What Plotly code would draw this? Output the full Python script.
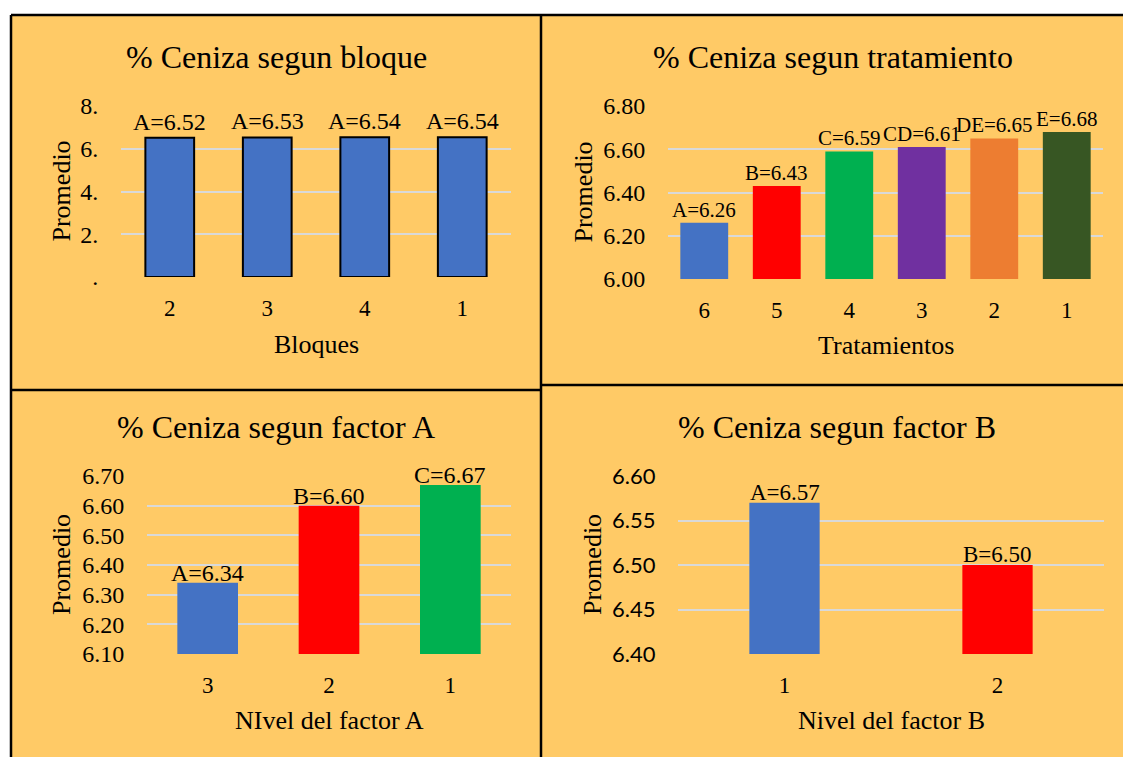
import plotly.graph_objects as go

# ---- data ----
bloques = ["2", "3", "4", "1"]
prom_bloque = [6.52, 6.53, 6.54, 6.54]
let_bloque = ["A", "A", "A", "A"]

tratamientos = ["6", "5", "4", "3", "2", "1"]
prom_trat = [6.26, 6.43, 6.59, 6.61, 6.65, 6.68]
let_trat = ["A", "B", "C", "CD", "DE", "E"]

nivel_a = ["3", "2", "1"]
prom_a = [6.34, 6.60, 6.67]
let_a = ["A", "B", "C"]

nivel_b = ["1", "2"]
prom_b = [6.57, 6.50]
let_b = ["A", "B"]

W, H = 1123, 757
SERIF = "Liberation Serif, Times New Roman, serif"
SANS = "Lato, Open Sans, sans-serif"
BG = "#FFCA66"
GRID = "#D9D9D9"

def px(x):
    return x / W

def py(y):
    return 1 - y / H

fig = go.Figure()

def labels(lets, vals):
    return [f"{l}={v:.2f}" for l, v in zip(lets, vals)]

panels = [
    dict(cats=bloques, vals=prom_bloque, lets=let_bloque, colors=["#4472C4"] * 4,
         xd=(121, 511), yd=(106, 277), rng=(0, 8), tv=[0, 2, 4, 6, 8],
         tt=[".", "2.", "4.", "6.", "8."], width=0.5, outline=True, lfs=24, lshift=1,
         title="% Ceniza segun bloque", tx=276, ty=57, xt="Bloques", xtx=316, xty=344,
         ytx=61, tfont=SERIF, tickfs=24),
    dict(cats=tratamientos, vals=prom_trat, lets=let_trat,
         colors=["#4472C4", "#FF0000", "#00B050", "#7030A0", "#ED7D31", "#375623"],
         xd=(668, 1103), yd=(106, 279), rng=(6.0, 6.8), tv=[6.0, 6.2, 6.4, 6.6, 6.8],
         tt=["6.00", "6.20", "6.40", "6.60", "6.80"], width=0.66, outline=False, lfs=21, lshift=-1,
         title="% Ceniza segun tratamiento", tx=833, ty=57, xt="Tratamientos", xtx=886, xty=345,
         ytx=583, tfont=SERIF, tickfs=24),
    dict(cats=nivel_a, vals=prom_a, lets=let_a, colors=["#4472C4", "#FF0000", "#00B050"],
         xd=(147, 511), yd=(476, 654), rng=(6.1, 6.7), tv=[6.1, 6.2, 6.3, 6.4, 6.5, 6.6, 6.7],
         tt=["6.10", "6.20", "6.30", "6.40", "6.50", "6.60", "6.70"], width=0.5, outline=False, lfs=24, lshift=-5,
         title="% Ceniza segun factor A", tx=276, ty=427, xt="NIvel del factor A", xtx=329, xty=720,
         ytx=61, tfont=SERIF, tickfs=24),
    dict(cats=nivel_b, vals=prom_b, lets=let_b, colors=["#4472C4", "#FF0000"],
         xd=(678, 1104), yd=(476, 654), rng=(6.4, 6.6), tv=[6.4, 6.45, 6.5, 6.55, 6.6],
         tt=["6.40", "6.45", "6.50", "6.55", "6.60"], width=0.33, outline=False, lfs=23, lshift=-4,
         title="% Ceniza segun factor B", tx=837, ty=427, xt="Nivel del factor B", xtx=891, xty=720,
         ytx=592, tfont=SANS, tickfs=22),
]

for i, p in enumerate(panels, start=1):
    sfx = "" if i == 1 else str(i)
    lo = p["rng"][0]
    fig.add_trace(go.Bar(
        x=p["cats"], y=[v - lo for v in p["vals"]], base=lo,
        marker=dict(color=p["colors"],
                    line=dict(color="black", width=2 if p["outline"] else 0)),
        width=p["width"], showlegend=False, hoverinfo="skip",
        xaxis="x" + sfx, yaxis="y" + sfx,
    ))
    # data labels, anchored at each bar's category position and value on the subplot's axes
    for k, (v, t) in enumerate(zip(p["vals"], labels(p["lets"], p["vals"]))):
        fig.add_annotation(x=k, y=v, xref="x" + sfx, yref="y" + sfx, text=t,
                           showarrow=False, xanchor="center", yanchor="bottom",
                           yshift=p["lshift"],
                           font=dict(family=SERIF, size=p["lfs"], color="black"))
    fig.layout["xaxis" + sfx] = dict(
        domain=[px(p["xd"][0]), px(p["xd"][1])], anchor="y" + sfx,
        type="category", categoryorder="array", categoryarray=p["cats"],
        range=[-0.5, len(p["cats"]) - 0.5],
        showgrid=False, zeroline=False, showline=False,
        ticks="outside", ticklen=10, tickcolor="rgba(0,0,0,0)",
        tickfont=dict(family=SERIF, size=23, color="black"), automargin=False,
    )
    fig.layout["yaxis" + sfx] = dict(
        domain=[py(p["yd"][1]), py(p["yd"][0])], anchor="x" + sfx,
        range=list(p["rng"]), tickvals=p["tv"], ticktext=p["tt"],
        showgrid=True, gridcolor=GRID, gridwidth=2, zeroline=False, showline=False,
        ticks="outside", ticklen=17, tickcolor="rgba(0,0,0,0)",
        tickfont=dict(family=p["tfont"], size=p["tickfs"], color="black"), automargin=False,
    )
    fig.add_annotation(x=px(p["tx"]), y=py(p["ty"]), xref="paper", yref="paper",
                       text=p["title"], showarrow=False, xanchor="center", yanchor="middle",
                       font=dict(family=SERIF, size=32, color="black"))
    fig.add_annotation(x=px(p["xtx"]), y=py(p["xty"]), xref="paper", yref="paper",
                       text=p["xt"], showarrow=False, xanchor="center", yanchor="middle",
                       font=dict(family=SERIF, size=26, color="black"))
    fig.add_annotation(x=px(p["ytx"]), y=py((p["yd"][0] + p["yd"][1]) / 2), xref="paper", yref="paper",
                       text="Promedio", showarrow=False, textangle=-90, xanchor="center", yanchor="middle",
                       font=dict(family=SERIF, size=26, color="black"))

# panel background and borders
shapes = [
    dict(type="rect", xref="paper", yref="paper", x0=px(11), x1=1, y0=0, y1=py(15),
         fillcolor=BG, line=dict(width=0), layer="below"),
]
border = dict(color="black", width=2.5)
for (x0, y0, x1, y1) in [(11, 15, 1123, 15), (11, 15, 11, 757), (541, 15, 541, 757),
                         (11, 390, 541, 390), (541, 385, 1123, 385)]:
    shapes.append(dict(type="line", xref="paper", yref="paper",
                       x0=px(x0), y0=py(y0), x1=px(x1), y1=py(y1), line=border))

fig.update_layout(
    width=W, height=H, margin=dict(l=0, r=0, t=0, b=0, pad=0, autoexpand=False),
    paper_bgcolor="white", plot_bgcolor="rgba(0,0,0,0)",
    shapes=shapes, bargap=0.5, showlegend=False,
)

fig.write_html("out.html", config={"displayModeBar": False},
               post_script="document.body.style.margin='0';document.body.style.overflow='hidden';")
